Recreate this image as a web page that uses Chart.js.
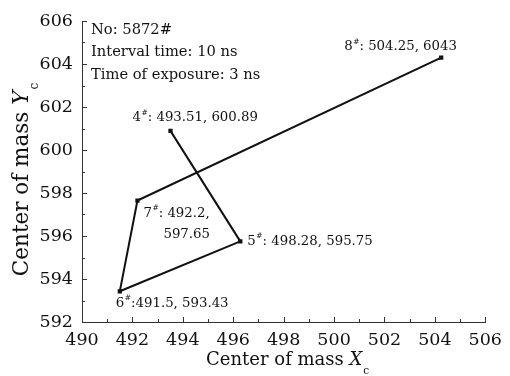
<!DOCTYPE html>
<html>
<head>
<meta charset="utf-8">
<script src="https://cdn.jsdelivr.net/npm/chart.js@4/dist/chart.umd.min.js"></script>
<style>
html,body{margin:0;padding:0;background:#fff;}
canvas{display:block;}
</style>
</head>
<body>
<canvas id="c" width="510" height="376"></canvas>
<script>
// ---- data ----
const pointNames = ['4', '5', '6', '7', '8'];
const xValues = [493.51, 496.28, 491.5, 492.2, 504.25];
const yValues = [600.89, 595.75, 593.43, 597.65, 604.3];
const labelTexts = [
  [': 493.51, 600.89'],
  [': 498.28, 595.75'],
  [':491.5, 593.43'],
  [': 492.2,', '597.65'],
  [': 504.25, 6043']
];
const infoLines = ['No: 5872#', 'Interval time: 10 ns', 'Time of exposure: 3 ns'];
const xTicks = [490, 492, 494, 496, 498, 500, 502, 504, 506];
const yTicks = [592, 594, 596, 598, 600, 602, 604, 606];
const xTitle = ['Center of mass ', 'X', 'c'];
const yTitle = ['Center of mass ', 'Y', 'c'];

const FONT = '"DejaVu Serif", serif';
const INK = '#111';

// label offsets relative to each point (px) [dx, dy] per line
const labelOffsets = [
  [[-38, -13]],
  [[7, 0]],
  [[-4, 12]],
  [[6, 13], [26, 34]],
  [[-97, -11]]
];

const pts = xValues.map((x, i) => ({x: x, y: yValues[i]}));

function drawTitle(ctx, parts, size, subSize, startX, y) {
  let tx = startX;
  ctx.font = size + 'px ' + FONT; ctx.fillText(parts[0], tx, y); tx += ctx.measureText(parts[0]).width;
  ctx.font = 'italic ' + size + 'px ' + FONT; ctx.fillText(parts[1], tx, y); tx += ctx.measureText(parts[1]).width + 1;
  ctx.font = subSize + 'px ' + FONT; ctx.fillText(parts[2], tx, y + size * 0.6);
}
function titleWidth(ctx, parts, size, subSize) {
  ctx.font = size + 'px ' + FONT; let w = ctx.measureText(parts[0]).width;
  ctx.font = 'italic ' + size + 'px ' + FONT; w += ctx.measureText(parts[1]).width + 1;
  ctx.font = subSize + 'px ' + FONT; w += ctx.measureText(parts[2]).width;
  return w;
}

const decor = {
  id: 'decor',
  afterDatasetsDraw(chart) {
    const ctx = chart.ctx;
    const xs = chart.scales.x, ys = chart.scales.y;
    const ca = chart.chartArea;
    ctx.save();
    ctx.strokeStyle = '#333';
    ctx.lineWidth = 1;
    // inward ticks
    for (let v = xTicks[0]; v <= xTicks[xTicks.length - 1]; v += 1) {
      const px = Math.round(xs.getPixelForValue(v)) + 0.5;
      const len = (v % 2 === 0) ? 5 : 3;
      ctx.beginPath(); ctx.moveTo(px, ca.bottom); ctx.lineTo(px, ca.bottom - len); ctx.stroke();
    }
    for (let v = yTicks[0]; v <= yTicks[yTicks.length - 1]; v += 1) {
      const py = Math.round(ys.getPixelForValue(v)) + 0.5;
      const len = (v % 2 === 0) ? 5 : 3;
      ctx.beginPath(); ctx.moveTo(ca.left, py); ctx.lineTo(ca.left + len, py); ctx.stroke();
    }
    ctx.fillStyle = INK;
    ctx.textBaseline = 'middle';
    ctx.textAlign = 'left';
    // point labels
    const fs = 13.3;
    pts.forEach((p, i) => {
      const px = xs.getPixelForValue(p.x), py = ys.getPixelForValue(p.y);
      labelTexts[i].forEach((t, j) => {
        let lx = px + labelOffsets[i][j][0];
        const ly = py + labelOffsets[i][j][1];
        if (j === 0) {
          ctx.font = fs + 'px ' + FONT;
          ctx.fillText(pointNames[i], lx, ly);
          lx += ctx.measureText(pointNames[i]).width + 0.5;
          ctx.font = '7.5px ' + FONT;
          ctx.fillText('#', lx, ly - 5);
          lx += ctx.measureText('#').width;
        }
        ctx.font = fs + 'px ' + FONT;
        ctx.fillText(t, lx, ly);
      });
    });
    // info block
    ctx.font = '14.7px ' + FONT;
    infoLines.forEach((t, i) => ctx.fillText(t, ca.left + 9, ca.top + 9 + i * 22.5));
    // x title
    const wx = titleWidth(ctx, xTitle, 18, 10.5);
    drawTitle(ctx, xTitle, 18, 10.5, (ca.left + ca.right) / 2 - wx / 2 + 4, 360);
    // y title
    ctx.save();
    ctx.translate(22, (ca.top + ca.bottom) / 2 + 8);
    ctx.rotate(-Math.PI / 2);
    const wy = titleWidth(ctx, yTitle, 21.5, 12);
    drawTitle(ctx, yTitle, 21.5, 12, -wy / 2, 0);
    ctx.restore();
    ctx.restore();
  }
};

new Chart(document.getElementById('c'), {
  type: 'scatter',
  data: {
    datasets: [{
      data: pts,
      showLine: true,
      borderColor: INK,
      backgroundColor: INK,
      borderWidth: 2,
      pointStyle: 'rect',
      pointRadius: 3,
      pointBorderWidth: 0,
      tension: 0
    }]
  },
  options: {
    responsive: false,
    animation: false,
    events: [],
    layout: {padding: {left: 0, top: 21, right: 24, bottom: 0}},
    plugins: {legend: {display: false}, tooltip: {enabled: false}},
    scales: {
      x: {
        type: 'linear', min: xTicks[0], max: xTicks[xTicks.length - 1],
        afterBuildTicks: s => { s.ticks = xTicks.map(v => ({value: v})); },
        afterFit: s => { s.height = 54; },
        grid: {display: false, drawTicks: false},
        border: {display: true, color: '#333', width: 1},
        ticks: {color: INK, font: {family: FONT, size: 17.5}, padding: 8, maxRotation: 0}
      },
      y: {
        type: 'linear', min: yTicks[0], max: yTicks[yTicks.length - 1],
        afterBuildTicks: s => { s.ticks = yTicks.map(v => ({value: v})); },
        afterFit: s => { s.width = 82; },
        grid: {display: false, drawTicks: false},
        border: {display: true, color: '#333', width: 1},
        ticks: {color: INK, font: {family: FONT, size: 17.5}, padding: 9}
      }
    }
  },
  plugins: [decor]
});
</script>
</body>
</html>
